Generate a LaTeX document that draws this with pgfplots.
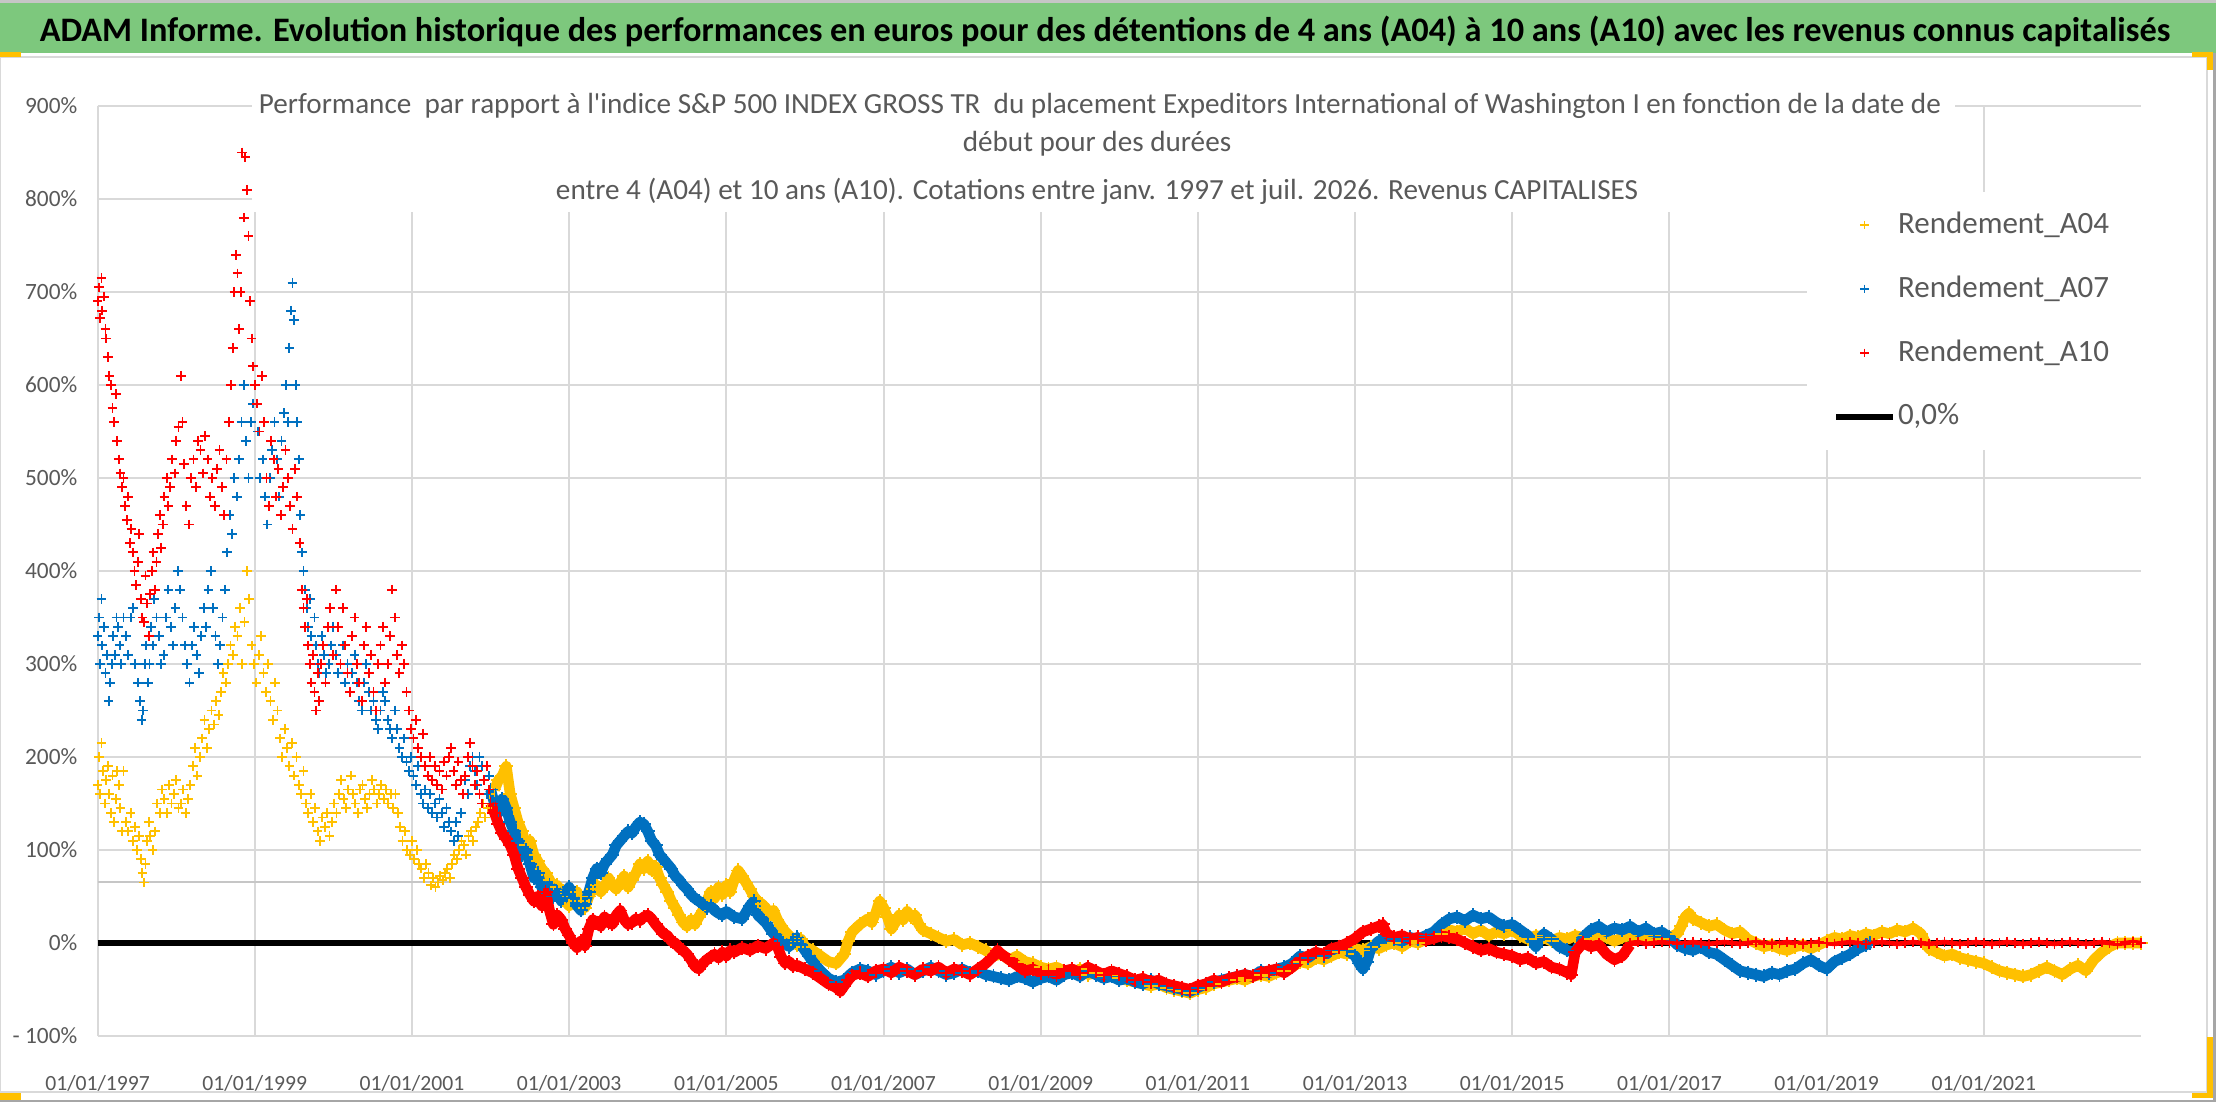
\documentclass[border=0pt]{standalone}
\usepackage{pgfplots}
\pgfplotsset{compat=1.18}
\usepackage{fontspec}
\setmainfont{Carlito}
\definecolor{cA04}{HTML}{FFC000}
\definecolor{cA07}{HTML}{0070C0}
\definecolor{cA10}{HTML}{FF0000}
\definecolor{gridgray}{HTML}{D9D9D9}
\definecolor{labelgray}{HTML}{595959}
\definecolor{bannergreen}{HTML}{7DC87D}
\definecolor{handle}{HTML}{FFC000}
\begin{document}
\begin{tikzpicture}[x=0.3pt,y=0.3pt]
\useasboundingbox (0,0) rectangle (2216,1102);
\fill[white] (0,0) rectangle (2216,1102);
% banner
\fill[gray!45] (0,1099) rectangle (2216,1102);
\fill[bannergreen] (0,1049) rectangle (2216,1099);
\node[font=\fontsize{10.3}{12}\selectfont\bfseries, text=black] at (1105,1071) {ADAM Informe. Evolution historique des performances en euros pour des détentions de 4 ans (A04) à 10 ans (A10) avec les revenus connus capitalisés};
% chart frame
\draw[gridgray, line width=0.6pt] (0,10) rectangle (2207,1045);
\fill[gray!70] (2213,0) rectangle (2216,1049);
\fill[gray!70] (0,0) rectangle (2216,2);
% handles
\fill[handle] (0,1045) rectangle (21,1050);
\fill[handle] (2192,1045) rectangle (2213,1050);
\fill[handle] (2207,1032) rectangle (2213,1050);
\fill[handle] (2207,4) rectangle (2213,65);
\fill[handle] (2192,4) rectangle (2213,9);
\fill[handle] (0,2) rectangle (21,9);
\begin{axis}[
  at={(29.28pt,19.8pt)}, anchor=south west,
  width=613.02pt, height=279pt, scale only axis,
  xmin=1997, xmax=2023, ymin=-100, ymax=900,
  xtick={1997,1999,...,2021},
  xticklabels={01/01/1997,01/01/1999,01/01/2001,01/01/2003,01/01/2005,01/01/2007,01/01/2009,01/01/2011,01/01/2013,01/01/2015,01/01/2017,01/01/2019,01/01/2021},
  ytick={-100,0,100,200,300,400,500,600,700,800,900},
  yticklabels={- 100\%,0\%,100\%,200\%,300\%,400\%,500\%,600\%,700\%,800\%,900\%},
  grid=major, major grid style={draw=gridgray, line width=0.6pt},
  axis line style={draw=none},
  major tick length=0pt,
  tick label style={text=labelgray},
  xticklabel style={anchor=center, yshift=-14.2pt, font=\fontsize{6.5}{8}\selectfont},
  yticklabel style={anchor=east, inner sep=0pt, xshift=-5.9pt, font=\fontsize{7}{8}\selectfont},
  clip=false,
  legend style={at={(axis description cs:0.849,0.894)}, anchor=north west, draw=none, fill=none,
    font=\fontsize{9.3}{11}\selectfont, text=labelgray, row sep=7.2pt, inner sep=0pt,
    nodes={inner xsep=0.6pt}},
  legend cell align=left,
]
% white boxes behind title and legend
\fill[white] (axis description cs:0.0756,0.886) rectangle (axis description cs:0.909,1.02);
\fill[white] (axis description cs:0.8366,0.630) rectangle (axis description cs:1.003,0.9075);
% stray gray line
\addplot[forget plot, draw=gray!45, line width=0.6pt] coordinates {(1997,66) (2023,66)};
% zero line
\addplot[forget plot, draw=black, line width=1.8pt] coordinates {(1997,0) (2023,0)};
% ---------- A04 ----------
\addplot[forget plot, only marks, mark=+, mark size=1.45pt, color=cA04, mark options={line width=0.55pt}] coordinates {
(1997.00,170)(1997.02,200)(1997.03,160)(1997.05,215)(1997.07,185)(1997.09,150)(1997.11,175)(1997.13,190)(1997.15,160)(1997.17,140)
(1997.19,180)(1997.21,130)(1997.23,155)(1997.25,185)(1997.27,170)(1997.29,145)(1997.31,120)(1997.33,185)(1997.36,130)(1997.39,120)
(1997.42,140)(1997.45,110)(1997.48,125)(1997.50,100)(1997.53,115)(1997.55,90)(1997.57,75)(1997.59,65)(1997.61,85)(1997.63,110)
(1997.65,130)(1997.67,115)(1997.70,100)(1997.73,120)(1997.76,150)(1997.79,140)(1997.82,165)(1997.85,155)(1997.88,140)(1997.91,170)
(1997.94,150)(1997.97,160)(1998.00,175)(1998.03,145)(1998.06,150)(1998.09,165)(1998.12,140)(1998.15,155)(1998.18,170)(1998.21,190)
(1998.24,210)(1998.27,180)(1998.30,200)(1998.33,220)(1998.36,240)(1998.39,210)(1998.42,230)(1998.45,250)(1998.48,235)(1998.51,260)
(1998.54,245)(1998.57,270)(1998.60,290)(1998.63,280)(1998.66,300)(1998.69,320)(1998.72,310)(1998.75,340)(1998.78,330)(1998.81,360)
(1998.84,300)(1998.87,345)(1998.90,400)(1998.93,370)(1998.96,320)(1998.99,300)(1999.02,280)(1999.05,310)(1999.08,330)(1999.11,290)
(1999.14,270)(1999.17,300)(1999.20,260)(1999.23,240)(1999.26,280)(1999.29,250)(1999.32,220)(1999.35,200)(1999.38,230)(1999.41,210)
(1999.44,190)(1999.47,215)(1999.50,180)(1999.53,200)(1999.56,170)(1999.59,160)(1999.62,185)(1999.65,150)(1999.68,140)(1999.71,160)
(1999.74,130)(1999.77,145)(1999.80,120)(1999.83,110)(1999.86,135)(1999.89,125)(1999.92,140)(1999.95,115)(1999.98,130)(2000.01,150)
(2000.04,140)(2000.07,160)(2000.10,175)(2000.13,155)(2000.16,145)(2000.19,165)(2000.22,180)(2000.25,160)(2000.28,150)(2000.31,140)
(2000.34,165)(2000.37,170)(2000.40,155)(2000.43,145)(2000.46,160)(2000.49,175)(2000.52,165)(2000.55,150)(2000.58,160)(2000.61,170)
(2000.64,155)(2000.67,165)(2000.70,150)(2000.73,160)(2000.76,145)(2000.79,160)(2000.82,140)(2000.85,125)(2000.88,110)(2000.91,120)
(2000.94,100)(2000.97,95)(2001.00,110)(2001.03,90)(2001.06,100)(2001.09,85)(2001.12,80)(2001.15,70)(2001.18,85)(2001.21,75)
(2001.24,62)(2001.27,70)(2001.30,60)(2001.33,65)(2001.36,72)(2001.39,68)(2001.42,75)(2001.45,80)(2001.48,70)(2001.51,85)
(2001.54,95)(2001.57,90)(2001.60,100)(2001.63,110)(2001.66,105)(2001.69,95)(2001.72,115)(2001.75,120)(2001.78,110)(2001.81,125)
(2001.84,130)(2001.87,140)(2001.90,150)(2001.93,135)(2001.96,145)(2001.99,160)
};
\addplot[forget plot, color=cA04, line width=3.2pt, line join=round, mark=+, mark size=2.1pt, mark options={line width=0.55pt}] coordinates {
(2002.05,165)(2002.10,175)(2002.15,180)(2002.20,190)(2002.25,160)(2002.30,145)(2002.35,130)(2002.40,120)(2002.45,105)(2002.50,110)
(2002.55,95)(2002.60,88)(2002.65,80)(2002.70,75)(2002.75,68)(2002.80,60)(2002.85,62)(2002.90,50)(2002.95,45)(2003.00,40)
(2003.05,48)(2003.10,55)(2003.15,45)(2003.20,38)(2003.25,50)(2003.30,58)(2003.35,62)(2003.40,55)(2003.45,60)(2003.50,70)
(2003.55,62)(2003.60,58)(2003.65,65)(2003.70,72)(2003.75,60)(2003.80,68)(2003.85,75)(2003.90,85)(2003.95,80)(2004.00,88)
(2004.05,78)(2004.10,82)(2004.15,70)(2004.20,62)(2004.25,55)(2004.30,45)(2004.35,38)(2004.40,30)(2004.45,22)(2004.50,18)
(2004.55,25)(2004.60,20)(2004.65,28)(2004.70,35)(2004.75,45)(2004.80,55)(2004.85,48)(2004.90,60)(2004.95,52)(2005.00,62)
(2005.05,55)(2005.10,68)(2005.15,78)(2005.20,72)(2005.25,65)(2005.30,58)(2005.35,50)(2005.40,45)(2005.45,42)(2005.50,38)
(2005.55,30)(2005.60,35)(2005.65,25)(2005.70,18)(2005.75,12)(2005.80,8)(2005.85,2)(2005.90,-2)(2005.95,4)(2006.00,-4)
(2006.10,-8)(2006.20,-14)(2006.30,-20)(2006.40,-22)(2006.50,-12)(2006.55,2)(2006.60,12)(2006.70,20)(2006.80,26)(2006.85,22)
(2006.90,32)(2006.95,45)(2007.00,38)(2007.05,28)(2007.10,15)(2007.15,22)(2007.20,30)(2007.25,25)(2007.30,34)(2007.35,28)
(2007.40,30)(2007.45,20)(2007.50,14)(2007.60,10)(2007.70,6)(2007.80,2)(2007.90,4)(2008.00,-2)(2008.10,0)(2008.20,-4)
(2008.30,-8)(2008.40,-14)(2008.50,-12)(2008.60,-18)(2008.70,-14)(2008.80,-20)(2008.90,-22)(2009.00,-26)(2009.10,-28)(2009.20,-26)
(2009.30,-30)(2009.40,-32)(2009.50,-28)(2009.60,-34)(2009.70,-32)(2009.80,-36)(2009.90,-34)(2010.00,-38)(2010.10,-40)(2010.20,-42)
(2010.30,-44)(2010.40,-46)(2010.50,-44)(2010.60,-48)(2010.70,-50)(2010.80,-52)(2010.90,-54)(2011.00,-50)(2011.10,-48)(2011.20,-44)
(2011.30,-42)(2011.40,-40)(2011.50,-38)(2011.60,-40)(2011.70,-36)(2011.80,-34)(2011.90,-36)(2012.00,-32)(2012.10,-30)(2012.20,-26)
(2012.30,-20)(2012.40,-22)(2012.50,-16)(2012.60,-18)(2012.70,-14)(2012.80,-10)(2012.90,-12)(2013.00,-6)(2013.10,-8)(2013.20,-4)
(2013.30,-6)(2013.40,-2)(2013.50,0)(2013.60,-4)(2013.70,2)(2013.80,0)(2013.90,4)(2014.00,6)(2014.10,10)(2014.20,14)
(2014.30,12)(2014.40,16)(2014.50,10)(2014.60,14)(2014.70,8)(2014.80,12)(2014.90,10)(2015.00,14)(2015.10,8)(2015.20,4)
(2015.30,8)(2015.40,6)(2015.50,2)(2015.60,6)(2015.70,4)(2015.80,8)(2015.90,6)(2016.00,4)(2016.10,8)(2016.20,6)
(2016.30,2)(2016.40,6)(2016.50,8)(2016.60,4)(2016.70,6)(2016.80,8)(2016.90,4)(2017.00,6)(2017.10,10)(2017.15,18)
(2017.20,28)(2017.25,32)(2017.30,26)(2017.40,22)(2017.50,18)(2017.60,20)(2017.70,14)(2017.80,10)(2017.90,12)(2018.00,4)
(2018.10,0)(2018.20,-4)(2018.30,-2)(2018.40,-6)(2018.50,-8)(2018.60,-4)(2018.70,-2)(2018.80,-6)(2018.90,-2)(2019.00,2)
(2019.10,6)(2019.20,4)(2019.30,8)(2019.40,6)(2019.50,10)(2019.60,8)(2019.70,12)(2019.80,10)(2019.90,14)(2020.00,12)
(2020.10,16)(2020.20,10)(2020.30,-6)(2020.40,-10)(2020.50,-14)(2020.60,-12)(2020.70,-16)(2020.80,-18)(2020.90,-20)(2021.00,-22)
(2021.10,-26)(2021.20,-30)(2021.30,-32)(2021.40,-34)(2021.50,-36)(2021.60,-34)(2021.70,-30)(2021.80,-26)(2021.90,-30)(2022.00,-34)
(2022.10,-28)(2022.20,-24)(2022.30,-30)(2022.40,-18)(2022.50,-10)(2022.60,-4)(2022.70,0)(2022.80,0)(2022.90,0)(2023.00,0)
};
% ---------- A07 ----------
\addplot[forget plot, only marks, mark=+, mark size=1.45pt, color=cA07, mark options={line width=0.55pt}] coordinates {
(1997.00,330)(1997.02,350)(1997.03,300)(1997.05,370)(1997.06,320)(1997.08,340)(1997.10,290)(1997.12,310)(1997.14,260)(1997.16,280)
(1997.18,300)(1997.20,330)(1997.22,310)(1997.24,350)(1997.26,340)(1997.28,320)(1997.30,300)(1997.33,350)(1997.36,330)(1997.39,310)
(1997.42,350)(1997.45,360)(1997.48,300)(1997.51,280)(1997.54,260)(1997.56,240)(1997.58,250)(1997.60,300)(1997.62,320)(1997.64,280)
(1997.66,300)(1997.68,340)(1997.70,320)(1997.72,370)(1997.75,350)(1997.78,330)(1997.81,300)(1997.84,310)(1997.87,350)(1997.90,380)
(1997.93,340)(1997.96,320)(1997.99,360)(1998.02,400)(1998.05,380)(1998.08,350)(1998.11,320)(1998.14,300)(1998.17,280)(1998.20,320)
(1998.23,340)(1998.26,310)(1998.29,290)(1998.32,330)(1998.35,360)(1998.38,340)(1998.41,380)(1998.44,400)(1998.47,360)(1998.50,330)
(1998.53,300)(1998.56,320)(1998.59,350)(1998.62,380)(1998.65,420)(1998.68,460)(1998.71,440)(1998.74,500)(1998.77,480)(1998.80,520)
(1998.83,560)(1998.86,600)(1998.89,540)(1998.92,500)(1998.95,560)(1998.98,580)(1999.01,600)(1999.04,550)(1999.07,500)(1999.10,520)
(1999.13,480)(1999.16,450)(1999.19,500)(1999.22,530)(1999.25,560)(1999.28,520)(1999.31,480)(1999.34,540)(1999.37,570)(1999.40,600)
(1999.42,560)(1999.44,640)(1999.46,680)(1999.48,710)(1999.50,670)(1999.52,600)(1999.54,560)(1999.56,520)(1999.58,460)(1999.60,420)
(1999.62,400)(1999.64,380)(1999.66,360)(1999.68,340)(1999.70,370)(1999.72,330)(1999.74,310)(1999.76,350)(1999.78,320)(1999.80,300)
(1999.82,290)(1999.85,330)(1999.88,310)(1999.91,290)(1999.94,300)(1999.97,320)(2000.00,340)(2000.03,310)(2000.06,290)(2000.09,300)
(2000.12,320)(2000.15,280)(2000.18,300)(2000.21,270)(2000.24,290)(2000.27,310)(2000.30,280)(2000.33,260)(2000.36,250)(2000.39,280)
(2000.42,300)(2000.45,270)(2000.48,250)(2000.51,260)(2000.54,240)(2000.57,230)(2000.60,250)(2000.63,270)(2000.66,260)(2000.69,240)
(2000.72,230)(2000.75,220)(2000.78,250)(2000.81,230)(2000.84,210)(2000.87,200)(2000.90,220)(2000.93,195)(2000.96,185)(2000.99,200)
(2001.02,180)(2001.05,170)(2001.08,190)(2001.11,160)(2001.14,150)(2001.17,165)(2001.20,145)(2001.23,160)(2001.26,140)(2001.29,150)
(2001.32,135)(2001.35,155)(2001.38,140)(2001.41,125)(2001.44,145)(2001.47,130)(2001.50,120)(2001.53,110)(2001.56,130)(2001.59,115)
(2001.62,140)(2001.65,160)(2001.68,175)(2001.71,160)(2001.74,190)(2001.77,200)(2001.80,185)(2001.83,170)(2001.86,200)(2001.89,190)
(2001.92,175)(2001.95,160)(2001.98,180)
};
\addplot[forget plot, color=cA07, line width=3.2pt, line join=round, mark=+, mark size=2.1pt, mark options={line width=0.55pt}] coordinates {
(2002.00,165)(2002.05,150)(2002.10,140)(2002.15,155)(2002.20,145)(2002.25,130)(2002.30,120)(2002.35,110)(2002.40,95)(2002.45,100)
(2002.50,85)(2002.55,70)(2002.60,75)(2002.65,60)(2002.70,55)(2002.75,62)(2002.80,50)(2002.85,55)(2002.90,45)(2002.95,52)
(2003.00,60)(2003.05,48)(2003.10,40)(2003.15,35)(2003.20,42)(2003.25,55)(2003.30,70)(2003.35,80)(2003.40,75)(2003.45,85)
(2003.50,90)(2003.55,95)(2003.60,105)(2003.65,110)(2003.70,115)(2003.75,120)(2003.80,118)(2003.85,125)(2003.90,130)(2003.95,128)
(2004.00,120)(2004.05,110)(2004.10,105)(2004.15,95)(2004.20,90)(2004.25,85)(2004.30,80)(2004.35,72)(2004.40,68)(2004.45,62)
(2004.50,58)(2004.55,52)(2004.60,48)(2004.65,45)(2004.70,42)(2004.75,38)(2004.80,40)(2004.85,35)(2004.90,32)(2004.95,30)
(2005.00,34)(2005.10,28)(2005.20,26)(2005.30,40)(2005.35,45)(2005.40,30)(2005.50,22)(2005.60,10)(2005.70,2)(2005.80,-4)
(2005.85,3)(2005.90,6)(2005.95,-2)(2006.00,-8)(2006.05,-14)(2006.10,-20)(2006.20,-30)(2006.30,-38)(2006.40,-42)(2006.50,-40)
(2006.60,-32)(2006.70,-28)(2006.80,-30)(2006.90,-34)(2007.00,-30)(2007.10,-26)(2007.20,-32)(2007.30,-28)(2007.40,-34)(2007.50,-30)
(2007.60,-26)(2007.70,-30)(2007.80,-34)(2007.90,-32)(2008.00,-28)(2008.10,-32)(2008.20,-30)(2008.30,-34)(2008.40,-36)(2008.50,-38)
(2008.60,-40)(2008.70,-36)(2008.80,-38)(2008.90,-42)(2009.00,-38)(2009.10,-36)(2009.20,-40)(2009.30,-34)(2009.40,-32)(2009.50,-36)
(2009.60,-30)(2009.70,-34)(2009.80,-38)(2009.90,-36)(2010.00,-40)(2010.10,-38)(2010.20,-42)(2010.30,-44)(2010.40,-40)(2010.50,-44)
(2010.60,-46)(2010.70,-48)(2010.80,-50)(2010.90,-52)(2011.00,-48)(2011.10,-44)(2011.20,-42)(2011.30,-40)(2011.40,-38)(2011.50,-36)
(2011.60,-34)(2011.70,-36)(2011.80,-30)(2011.90,-32)(2012.00,-28)(2012.10,-26)(2012.20,-22)(2012.30,-14)(2012.40,-16)(2012.50,-10)
(2012.60,-14)(2012.70,-8)(2012.80,-4)(2012.90,-8)(2013.00,-14)(2013.05,-22)(2013.10,-28)(2013.15,-20)(2013.20,-6)(2013.30,2)
(2013.40,6)(2013.50,4)(2013.60,2)(2013.70,6)(2013.80,4)(2013.90,8)(2014.00,12)(2014.10,20)(2014.20,26)(2014.30,28)
(2014.40,24)(2014.50,30)(2014.60,26)(2014.70,28)(2014.80,22)(2014.90,18)(2015.00,20)(2015.10,14)(2015.20,8)(2015.30,-4)
(2015.40,10)(2015.50,4)(2015.60,-4)(2015.70,-8)(2015.80,-10)(2015.90,6)(2016.00,14)(2016.10,18)(2016.20,12)(2016.30,16)
(2016.40,14)(2016.50,18)(2016.60,12)(2016.70,16)(2016.80,10)(2016.90,12)(2017.00,6)(2017.10,-2)(2017.20,-6)(2017.30,-8)
(2017.40,-4)(2017.50,-10)(2017.60,-12)(2017.70,-18)(2017.80,-24)(2017.90,-30)(2018.00,-32)(2018.10,-34)(2018.20,-36)(2018.30,-32)
(2018.40,-34)(2018.50,-30)(2018.60,-28)(2018.70,-22)(2018.80,-18)(2018.90,-24)(2019.00,-28)(2019.10,-20)(2019.20,-16)(2019.30,-12)
(2019.40,-6)(2019.50,-2)(2019.55,0)
};
% ---------- A10 ----------
\addplot[forget plot, only marks, mark=+, mark size=1.45pt, color=cA10, mark options={line width=0.55pt}] coordinates {
(1997.00,690)(1997.02,705)(1997.03,672)(1997.05,715)(1997.06,680)(1997.08,695)(1997.10,660)(1997.11,650)(1997.13,630)(1997.15,610)
(1997.17,600)(1997.19,575)(1997.21,560)(1997.23,590)(1997.25,540)(1997.27,520)(1997.29,505)(1997.31,490)(1997.33,500)(1997.35,470)
(1997.37,455)(1997.39,480)(1997.41,430)(1997.43,445)(1997.45,420)(1997.47,400)(1997.49,385)(1997.51,410)(1997.53,440)(1997.55,370)
(1997.57,350)(1997.59,345)(1997.61,395)(1997.63,365)(1997.65,330)(1997.67,375)(1997.69,400)(1997.71,420)(1997.73,380)(1997.75,410)
(1997.77,440)(1997.79,460)(1997.81,425)(1997.83,450)(1997.85,480)(1997.88,500)(1997.90,470)(1997.92,490)(1997.95,520)(1997.98,505)
(1998.00,540)(1998.03,555)(1998.06,610)(1998.08,560)(1998.10,515)(1998.13,470)(1998.16,450)(1998.19,500)(1998.22,520)(1998.25,490)
(1998.28,540)(1998.31,530)(1998.34,505)(1998.37,545)(1998.40,520)(1998.43,480)(1998.46,500)(1998.49,470)(1998.52,510)(1998.55,530)
(1998.58,490)(1998.61,460)(1998.64,520)(1998.67,560)(1998.70,600)(1998.72,640)(1998.74,700)(1998.76,740)(1998.78,720)(1998.80,660)
(1998.82,700)(1998.84,850)(1998.86,780)(1998.88,845)(1998.90,810)(1998.92,760)(1998.94,690)(1998.96,650)(1998.98,620)(1999.00,600)
(1999.03,580)(1999.06,550)(1999.09,610)(1999.12,560)(1999.15,500)(1999.18,470)(1999.21,540)(1999.24,520)(1999.27,480)(1999.30,510)
(1999.33,460)(1999.36,490)(1999.39,530)(1999.42,500)(1999.45,470)(1999.48,445)(1999.51,510)(1999.54,480)(1999.57,430)(1999.60,380)
(1999.62,360)(1999.64,340)(1999.66,370)(1999.68,320)(1999.70,300)(1999.72,280)(1999.74,310)(1999.76,270)(1999.78,250)(1999.80,290)
(1999.82,260)(1999.84,300)(1999.87,320)(1999.90,280)(1999.93,340)(1999.96,360)(2000.00,310)(2000.03,380)(2000.06,340)(2000.09,300)
(2000.12,360)(2000.15,320)(2000.18,290)(2000.21,270)(2000.24,330)(2000.27,350)(2000.30,300)(2000.33,280)(2000.36,260)(2000.39,320)
(2000.42,340)(2000.45,290)(2000.48,310)(2000.51,270)(2000.54,250)(2000.57,300)(2000.60,320)(2000.63,340)(2000.66,280)(2000.69,300)
(2000.72,330)(2000.75,380)(2000.78,350)(2000.81,310)(2000.84,290)(2000.87,320)(2000.90,300)(2000.93,270)(2000.96,250)(2000.99,230)
(2001.02,220)(2001.05,240)(2001.08,210)(2001.11,200)(2001.14,225)(2001.17,190)(2001.20,180)(2001.23,200)(2001.26,175)(2001.29,190)
(2001.32,170)(2001.35,185)(2001.38,165)(2001.41,195)(2001.44,180)(2001.47,200)(2001.50,210)(2001.53,185)(2001.56,170)(2001.59,195)
(2001.62,175)(2001.65,160)(2001.68,180)(2001.71,200)(2001.74,215)(2001.77,190)(2001.80,170)(2001.83,185)(2001.86,160)(2001.89,150)
(2001.92,175)(2001.95,190)(2001.98,165)
};
\addplot[forget plot, color=cA10, line width=3.2pt, line join=round, mark=+, mark size=2.1pt, mark options={line width=0.55pt}] coordinates {
(2002.00,150)(2002.05,140)(2002.10,128)(2002.15,118)(2002.20,112)(2002.25,105)(2002.30,95)(2002.35,80)(2002.40,70)(2002.45,60)
(2002.50,52)(2002.55,45)(2002.60,50)(2002.65,40)(2002.70,55)(2002.75,35)(2002.80,20)(2002.85,30)(2002.90,25)(2002.95,15)
(2003.00,8)(2003.05,0)(2003.10,-5)(2003.15,2)(2003.20,-3)(2003.25,15)(2003.30,25)(2003.35,22)(2003.40,18)(2003.45,28)
(2003.50,22)(2003.55,20)(2003.60,30)(2003.65,35)(2003.70,25)(2003.75,20)(2003.80,22)(2003.85,26)(2003.90,24)(2003.95,28)
(2004.00,30)(2004.05,26)(2004.10,20)(2004.15,15)(2004.20,10)(2004.25,8)(2004.30,2)(2004.35,0)(2004.40,-5)(2004.45,-8)
(2004.50,-12)(2004.55,-18)(2004.60,-25)(2004.65,-28)(2004.70,-22)(2004.75,-18)(2004.80,-15)(2004.85,-12)(2004.90,-16)(2004.95,-10)
(2005.00,-14)(2005.05,-8)(2005.10,-10)(2005.20,-5)(2005.30,-8)(2005.40,-3)(2005.50,-6)(2005.60,0)(2005.65,-4)(2005.70,-15)
(2005.75,-22)(2005.80,-20)(2005.85,-25)(2005.90,-24)(2006.00,-28)(2006.10,-32)(2006.20,-38)(2006.30,-44)(2006.40,-48)(2006.45,-52)
(2006.50,-46)(2006.55,-40)(2006.60,-35)(2006.70,-32)(2006.80,-36)(2006.90,-30)(2007.00,-28)(2007.10,-32)(2007.20,-26)(2007.30,-30)
(2007.40,-34)(2007.50,-28)(2007.60,-30)(2007.70,-26)(2007.80,-32)(2007.90,-28)(2008.00,-30)(2008.10,-34)(2008.20,-28)(2008.30,-22)
(2008.40,-14)(2008.45,-8)(2008.50,-12)(2008.60,-18)(2008.70,-24)(2008.80,-30)(2008.90,-28)(2009.00,-32)(2009.10,-30)(2009.20,-34)
(2009.30,-30)(2009.40,-28)(2009.50,-32)(2009.60,-26)(2009.70,-30)(2009.80,-34)(2009.90,-30)(2010.00,-33)(2010.10,-36)(2010.20,-40)
(2010.30,-38)(2010.40,-42)(2010.50,-40)(2010.60,-44)(2010.70,-46)(2010.80,-48)(2010.90,-50)(2011.00,-46)(2011.10,-44)(2011.20,-40)
(2011.30,-42)(2011.40,-38)(2011.50,-36)(2011.60,-34)(2011.70,-36)(2011.80,-32)(2011.90,-30)(2012.00,-28)(2012.10,-32)(2012.20,-26)
(2012.30,-18)(2012.40,-14)(2012.50,-10)(2012.60,-12)(2012.70,-6)(2012.80,-4)(2012.90,0)(2013.00,5)(2013.10,12)(2013.20,15)
(2013.30,18)(2013.35,20)(2013.40,10)(2013.50,6)(2013.60,8)(2013.70,4)(2013.80,6)(2013.90,3)(2014.00,5)(2014.10,8)
(2014.20,6)(2014.30,4)(2014.40,0)(2014.50,-4)(2014.60,-8)(2014.70,-6)(2014.80,-10)(2014.90,-12)(2015.00,-14)(2015.10,-18)
(2015.20,-16)(2015.30,-22)(2015.40,-20)(2015.50,-26)(2015.60,-28)(2015.70,-32)(2015.75,-34)(2015.80,-10)(2015.90,0)(2016.00,-4)
(2016.10,-2)(2016.20,-12)(2016.30,-18)(2016.40,-14)(2016.50,-2)
};
\addplot[forget plot, color=cA10, line width=1.4pt, mark=+, mark size=1.6pt, mark options={line width=0.55pt}] coordinates {
(2016.50,0)(2016.60,1)(2016.70,-1)(2016.80,0)(2016.90,1)(2017.00,0)(2017.10,-1)(2017.20,0)(2017.30,1)(2017.40,0)
(2017.50,-1)(2017.60,0)(2017.70,1)(2017.80,0)(2017.90,-1)(2018.00,0)(2018.10,1)(2018.20,0)(2018.30,-1)(2018.40,0)
(2018.50,1)(2018.60,0)(2018.70,-1)(2018.80,0)(2018.90,1)(2019.00,0)(2019.10,-1)(2019.20,0)(2019.30,1)(2019.40,0)
(2019.50,-1)(2019.60,0)(2019.70,1)(2019.80,0)(2019.90,-1)(2020.00,0)(2020.10,1)(2020.20,0)(2020.30,-1)(2020.40,0)
(2020.50,1)(2020.60,0)(2020.70,-1)(2020.80,0)(2020.90,1)(2021.00,0)(2021.10,-1)(2021.20,0)(2021.30,1)(2021.40,0)
(2021.50,-1)(2021.60,0)(2021.70,1)(2021.80,0)(2021.90,-1)(2022.00,0)(2022.10,1)(2022.20,0)(2022.30,-1)(2022.40,0)
(2022.50,1)(2022.60,0)(2022.70,-1)(2022.80,0)(2022.90,1)(2023.00,0)
};
% legend
\addlegendimage{only marks, mark=+, mark size=1.3pt, color=cA04, mark options={line width=0.5pt}}
\addlegendentry{Rendement\_A04}
\addlegendimage{only marks, mark=+, mark size=1.3pt, color=cA07, mark options={line width=0.5pt}}
\addlegendentry{Rendement\_A07}
\addlegendimage{only marks, mark=+, mark size=1.3pt, color=cA10, mark options={line width=0.5pt}}
\addlegendentry{Rendement\_A10}
\addlegendimage{black, line width=1.8pt}
\addlegendentry{0,0\%}
\end{axis}
% chart title
\node[font=\fontsize{8.75}{10}\selectfont, text=labelgray] at (1100,996) {Performance\ \ par rapport à l\textquotesingle indice S\&P 500 INDEX GROSS TR\ \ du placement Expeditors International of Washington I en fonction de la date de};
\node[font=\fontsize{8.75}{10}\selectfont, text=labelgray] at (1097,958) {début pour des durées};
\node[font=\fontsize{8.75}{10}\selectfont, text=labelgray] at (1097,911) {entre 4 (A04) et 10 ans (A10). Cotations entre janv. 1997 et juil. 2026. Revenus CAPITALISES};
\end{tikzpicture}
\end{document}
